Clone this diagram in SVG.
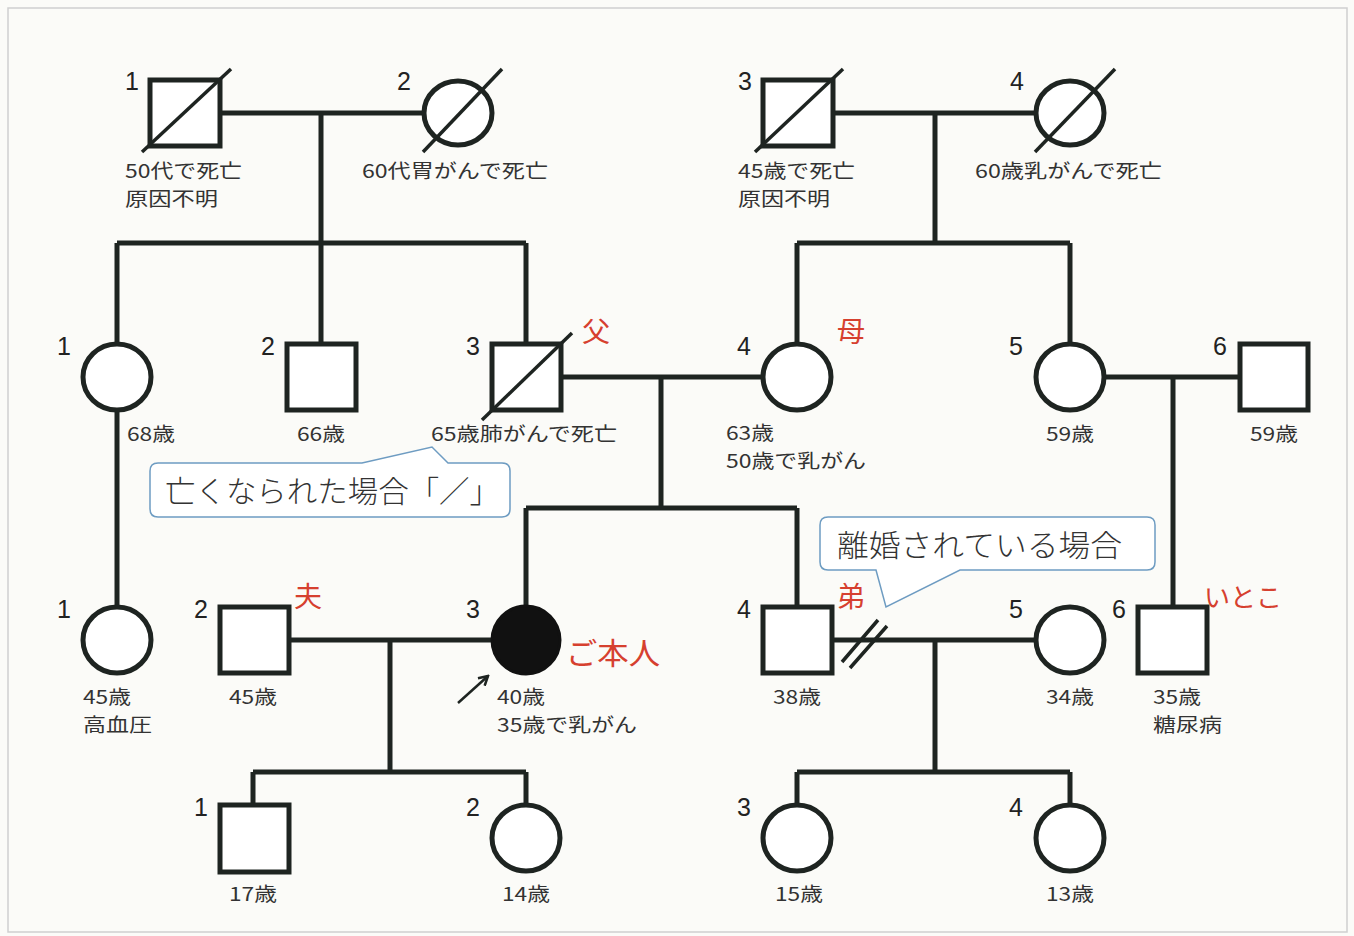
<svg xmlns="http://www.w3.org/2000/svg" width="1354" height="936" viewBox="0 0 1354 936">
<defs>
<style>
.ln{stroke:#1e2421;stroke-width:5;fill:none;stroke-linecap:butt}
.sym{stroke:#1e2421;stroke-width:5;fill:#fff}
.sl{stroke:#1e2421;stroke-width:3.5;fill:none}
.num{font-family:"Liberation Sans","Noto Sans",sans-serif;font-size:25px;fill:#222}
.lab{font-family:"Noto Sans CJK JP","Noto Sans",sans-serif;font-size:19px;fill:#333}
.red{font-family:"Noto Sans CJK JP",sans-serif;fill:#d6402f}
.call{stroke:#6e9cc2;stroke-width:1.5;fill:#fff}
.ct{font-family:"Noto Sans CJK JP",sans-serif;font-size:30px;fill:#333;font-weight:300}
</style>
<marker id="ah" viewBox="0 0 12 12" refX="10" refY="6" markerWidth="12" markerHeight="12" markerUnits="userSpaceOnUse" orient="auto">
<path d="M1,1 L10,6 L1,11" fill="none" stroke="#1e2421" stroke-width="2.5"/>
</marker>
</defs>
<rect x="0" y="0" width="1354" height="936" fill="#fbfbf8"/>
<rect x="8" y="8" width="1339" height="924" fill="none" stroke="#cfcfcf" stroke-width="1.5"/>

<g id="connectors">
<path class="ln" d="M220,113 H424 M321,113 V243 M117,243 H526 M117,243 V343 M321,243 V343 M526,243 V343"/>
<path class="ln" d="M833,113 H1036 M935,113 V243 M797,243 H1070 M797,243 V343 M1070,243 V343"/>
<path class="ln" d="M561,377 H763 M661,377 V508 M526,508 H797 M526,508 V606 M797,508 V607"/>
<path class="ln" d="M1105,377 H1240 M1173,377 V607"/>
<path class="ln" d="M117,410 V606"/>
<path class="ln" d="M289,640 H492 M390,640 V772 M253,772 H526 M253,772 V805 M526,772 V804"/>
<path class="ln" d="M832,640 H1036 M935,640 V772 M797,772 H1070 M797,772 V804 M1070,772 V804"/>
<path class="sl" d="M842,662 L878,620 M850,668 L887,626"/>
<line x1="458" y1="703" x2="488" y2="676" stroke="#1e2421" stroke-width="2.5" marker-end="url(#ah)"/>
</g>

<g id="I-1"><rect class="sym" x="150" y="80" width="70" height="66"/><line class="sl" x1="142" y1="152" x2="231" y2="69"/><text class="num" x="125" y="90">1</text><text class="lab" x="125" y="178" textLength="117" lengthAdjust="spacingAndGlyphs">50代で死亡</text><text class="lab" x="125" y="205.5" textLength="93" lengthAdjust="spacingAndGlyphs">原因不明</text></g>
<g id="I-2"><ellipse class="sym" cx="458" cy="113" rx="34" ry="32"/><line class="sl" x1="423" y1="152" x2="502" y2="69"/><text class="num" x="397" y="90">2</text><text class="lab" x="362" y="178" textLength="186" lengthAdjust="spacingAndGlyphs">60代胃がんで死亡</text></g>
<g id="I-3"><rect class="sym" x="763" y="80" width="70" height="66"/><line class="sl" x1="755" y1="152" x2="843" y2="69"/><text class="num" x="738" y="90">3</text><text class="lab" x="738" y="178" textLength="117" lengthAdjust="spacingAndGlyphs">45歳で死亡</text><text class="lab" x="738" y="205.5" textLength="92" lengthAdjust="spacingAndGlyphs">原因不明</text></g>
<g id="I-4"><ellipse class="sym" cx="1070" cy="113" rx="34" ry="32"/><line class="sl" x1="1035" y1="152" x2="1115" y2="69"/><text class="num" x="1010" y="90">4</text><text class="lab" x="975" y="178" textLength="187" lengthAdjust="spacingAndGlyphs">60歳乳がんで死亡</text></g>

<g id="II-1"><ellipse class="sym" cx="117" cy="377" rx="34" ry="33"/><text class="num" x="57" y="355">1</text><text class="lab" x="127" y="441" textLength="48" lengthAdjust="spacingAndGlyphs">68歳</text></g>
<g id="II-2"><rect class="sym" x="287" y="344" width="69" height="66"/><text class="num" x="261" y="355">2</text><text class="lab" x="297" y="441" textLength="48" lengthAdjust="spacingAndGlyphs">66歳</text></g>
<g id="II-3"><rect class="sym" x="492" y="344" width="69" height="66"/><line class="sl" x1="482" y1="420" x2="572" y2="333"/><text class="num" x="466" y="355">3</text><text class="red" x="582" y="342" font-size="28">父</text><text class="lab" x="431" y="441" textLength="186" lengthAdjust="spacingAndGlyphs">65歳肺がんで死亡</text></g>
<g id="II-4"><ellipse class="sym" cx="797" cy="377" rx="34" ry="33"/><text class="num" x="737" y="355">4</text><text class="red" x="837" y="342" font-size="28">母</text><text class="lab" x="726" y="440" textLength="48" lengthAdjust="spacingAndGlyphs">63歳</text><text class="lab" x="726" y="467.5" textLength="140" lengthAdjust="spacingAndGlyphs">50歳で乳がん</text></g>
<g id="II-5"><ellipse class="sym" cx="1070" cy="377" rx="34" ry="33"/><text class="num" x="1009" y="355">5</text><text class="lab" x="1046" y="441" textLength="48" lengthAdjust="spacingAndGlyphs">59歳</text></g>
<g id="II-6"><rect class="sym" x="1240" y="344" width="68" height="66"/><text class="num" x="1213" y="355">6</text><text class="lab" x="1250" y="441" textLength="48" lengthAdjust="spacingAndGlyphs">59歳</text></g>

<g id="callout-death"><path class="call" d="M158,463 H362 L432,447 L448,463 H502 Q510,463 510,471 V509 Q510,517 502,517 H158 Q150,517 150,509 V471 Q150,463 158,463 Z"/><text class="ct" x="165" y="502" textLength="335" lengthAdjust="spacingAndGlyphs">亡くなられた場合「／」</text></g>
<g id="callout-divorce"><path class="call" d="M828,517 H1147 Q1155,517 1155,525 V562 Q1155,570 1147,570 H960 L886,607 L876,570 H828 Q820,570 820,562 V525 Q820,517 828,517 Z"/><text class="ct" x="837" y="556" textLength="285" lengthAdjust="spacingAndGlyphs">離婚されている場合</text></g>

<g id="III-1"><ellipse class="sym" cx="117" cy="640" rx="34" ry="33"/><text class="num" x="57" y="618">1</text><text class="lab" x="83" y="704" textLength="48" lengthAdjust="spacingAndGlyphs">45歳</text><text class="lab" x="83" y="731.5" textLength="69" lengthAdjust="spacingAndGlyphs">高血圧</text></g>
<g id="III-2"><rect class="sym" x="220" y="607" width="69" height="66"/><text class="num" x="194" y="618">2</text><text class="red" x="294" y="607" font-size="28">夫</text><text class="lab" x="229" y="704" textLength="48" lengthAdjust="spacingAndGlyphs">45歳</text></g>
<g id="III-3"><ellipse cx="526" cy="640" rx="34" ry="34" fill="#111" stroke="#111" stroke-width="3"/><text class="num" x="466" y="618">3</text><text class="red" x="566" y="664" font-size="30" textLength="94" lengthAdjust="spacingAndGlyphs">ご本人</text><text class="lab" x="497" y="704" textLength="48" lengthAdjust="spacingAndGlyphs">40歳</text><text class="lab" x="497" y="731.5" textLength="140" lengthAdjust="spacingAndGlyphs">35歳で乳がん</text></g>
<g id="III-4"><rect class="sym" x="763" y="607" width="69" height="66"/><text class="num" x="737" y="618">4</text><text class="red" x="837" y="607" font-size="28">弟</text><text class="lab" x="773" y="704" textLength="48" lengthAdjust="spacingAndGlyphs">38歳</text></g>
<g id="III-5"><ellipse class="sym" cx="1070" cy="640" rx="34" ry="33"/><text class="num" x="1009" y="618">5</text><text class="lab" x="1046" y="704" textLength="48" lengthAdjust="spacingAndGlyphs">34歳</text></g>
<g id="III-6"><rect class="sym" x="1138" y="607" width="69" height="66"/><text class="num" x="1112" y="618">6</text><text class="red" x="1204" y="607" font-size="26">いとこ</text><text class="lab" x="1153" y="704" textLength="48" lengthAdjust="spacingAndGlyphs">35歳</text><text class="lab" x="1153" y="731.5" textLength="69" lengthAdjust="spacingAndGlyphs">糖尿病</text></g>

<g id="IV-1"><rect class="sym" x="220" y="805" width="69" height="67"/><text class="num" x="194" y="816">1</text><text class="lab" x="229" y="901" textLength="48" lengthAdjust="spacingAndGlyphs">17歳</text></g>
<g id="IV-2"><ellipse class="sym" cx="526" cy="838" rx="34" ry="33"/><text class="num" x="466" y="816">2</text><text class="lab" x="502" y="901" textLength="48" lengthAdjust="spacingAndGlyphs">14歳</text></g>
<g id="IV-3"><ellipse class="sym" cx="797" cy="838" rx="34" ry="33"/><text class="num" x="737" y="816">3</text><text class="lab" x="775" y="901" textLength="48" lengthAdjust="spacingAndGlyphs">15歳</text></g>
<g id="IV-4"><ellipse class="sym" cx="1070" cy="838" rx="34" ry="33"/><text class="num" x="1009" y="816">4</text><text class="lab" x="1046" y="901" textLength="48" lengthAdjust="spacingAndGlyphs">13歳</text></g>
</svg>
